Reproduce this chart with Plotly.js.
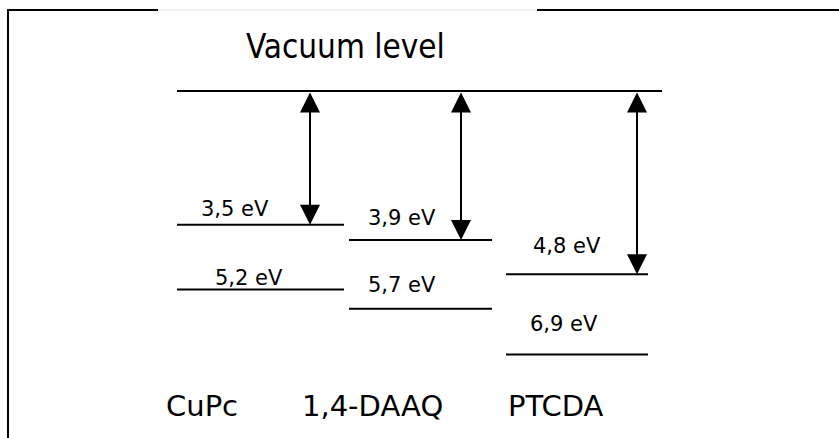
<!DOCTYPE html>
<html><head><meta charset="utf-8">
<script src="https://cdn.plot.ly/plotly-3.0.1.min.js"></script>
<style>html,body{margin:0;padding:0;background:#fff}</style>
</head><body><div id="chart" style="width:839px;height:438px"></div>
<script>
// ---- data ----
const molecules = ['CuPc', '1,4-DAAQ', 'PTCDA'];
const lumo = [3.5, 3.9, 4.8];      // eV below vacuum level
const homo = [5.2, 5.7, 6.9];      // eV below vacuum level
const vacuumLevel = 0;
const vacuumText = 'Vacuum level';
const lumoLabels = ['3,5 eV', '3,9 eV', '4,8 eV'];
const homoLabels = ['5,2 eV', '5,7 eV', '6,9 eV'];

// ---- layout geometry (pixels) ----
const W = 839, H = 438;
const levelX = [[177, 344], [349, 492], [506, 648]];
const vacuumX = [177, 662];
const arrowX = [310, 461, 637];
const lumoLabelX = [235, 402, 567];
const homoLabelX = [249, 402, 564];
const lumoLabelOff = [16, 22, 28];
const homoLabelOff = [12, 24, 31];
const nameX = [202, 372, 556];
const nameY = 406;
const vacY = 46, vacX = 345;
const yRange = [9.086, -2.383];

const mainFont = 'DejaVu Sans, sans-serif';
const narrowFont = 'DejaVu Sans Condensed, sans-serif';

const traces = [];
function hline(x0, x1, e) {
  traces.push({x: [x0, x1], y: [e, e], mode: 'lines', type: 'scatter',
    line: {color: '#000', width: 2}, hoverinfo: 'skip', showlegend: false});
}
hline(vacuumX[0], vacuumX[1], vacuumLevel);
molecules.forEach((m, i) => {
  hline(levelX[i][0], levelX[i][1], lumo[i]);
  hline(levelX[i][0], levelX[i][1], homo[i]);
});

const annotations = [];
molecules.forEach((m, i) => {
  annotations.push({
    x: arrowX[i], y: lumo[i], ax: arrowX[i], ay: vacuumLevel,
    xref: 'x', yref: 'y', axref: 'x', ayref: 'y',
    text: '', showarrow: true, arrowside: 'end+start',
    arrowhead: 2, startarrowhead: 2, arrowsize: 2, startarrowsize: 2,
    arrowwidth: 2, arrowcolor: '#000', standoff: 0, startstandoff: 0
  });
  annotations.push({x: lumoLabelX[i], y: lumo[i], xref: 'x', yref: 'y',
    text: lumoLabels[i], showarrow: false, yanchor: 'middle', xanchor: 'center',
    yshift: lumoLabelOff[i], font: {family: mainFont, size: 21, color: '#000'}});
  annotations.push({x: homoLabelX[i], y: homo[i], xref: 'x', yref: 'y',
    text: homoLabels[i], showarrow: false, yanchor: 'middle', xanchor: 'center',
    yshift: homoLabelOff[i], font: {family: mainFont, size: 21, color: '#000'}});
  annotations.push({x: nameX[i], y: 1 - nameY / H, xref: 'x', yref: 'paper',
    text: m, showarrow: false, yanchor: 'middle', xanchor: 'center',
    font: {family: mainFont, size: 29, color: '#000'}});
});
annotations.push({x: vacX, y: 1 - vacY / H, xref: 'x', yref: 'paper',
  text: vacuumText, showarrow: false, yanchor: 'middle', xanchor: 'center',
  font: {family: narrowFont, size: 33, color: '#000'}});

const py = p => 1 - p / H;
const shapes = [
  {type: 'line', xref: 'x', yref: 'paper', x0: 8, x1: 8, y0: py(9), y1: 0, line: {color: '#000', width: 2}},
  {type: 'line', xref: 'x', yref: 'paper', x0: 7, x1: 158, y0: py(10), y1: py(10), line: {color: '#000', width: 2}},
  {type: 'line', xref: 'x', yref: 'paper', x0: 158, x1: 537, y0: py(10), y1: py(10), line: {color: '#e0e0e0', width: 1}},
  {type: 'line', xref: 'x', yref: 'paper', x0: 537, x1: W, y0: py(10), y1: py(10), line: {color: '#000', width: 2}}
];

const layout = {
  width: W, height: H,
  margin: {l: 0, r: 0, t: 0, b: 0, pad: 0},
  paper_bgcolor: '#fff', plot_bgcolor: '#fff',
  xaxis: {range: [0, W], visible: false, fixedrange: true},
  yaxis: {range: yRange, visible: false, fixedrange: true},
  showlegend: false,
  annotations: annotations,
  shapes: shapes
};
Plotly.newPlot('chart', traces, layout, {staticPlot: true, displayModeBar: false});
</script>
</body></html>
